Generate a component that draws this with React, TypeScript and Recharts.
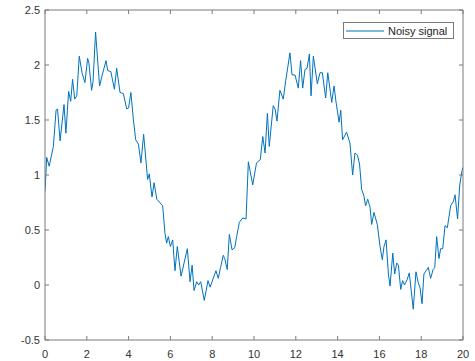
import { Line, LineChart, XAxis, YAxis } from 'recharts'

// sample positions
const xs = [
  0, 0.08, 0.2, 0.4, 0.53, 0.6, 0.72, 0.91, 1.0, 1.13, 1.23, 1.32, 1.42, 1.52, 1.64, 1.77, 1.91, 2.04, 2.1, 2.23,
  2.3, 2.42, 2.61, 2.74, 2.92, 3.0, 3.15, 3.32, 3.43, 3.59, 3.75, 3.91, 4.0, 4.11, 4.23, 4.34, 4.47, 4.59, 4.72, 4.91,
  4.99, 5.12, 5.22, 5.35, 5.63, 5.74, 5.82, 5.9, 6.0, 6.11, 6.22, 6.33, 6.51, 6.81, 6.94, 7.04, 7.13, 7.26, 7.35, 7.45,
  7.62, 7.8, 7.9, 8.18, 8.29, 8.4, 8.53, 8.6, 8.72, 8.82, 8.95, 9.08, 9.17, 9.3, 9.46, 9.62, 9.73, 9.94, 10.12, 10.3,
  10.42, 10.53, 10.64, 10.73, 10.92, 11.01, 11.1, 11.24, 11.4, 11.52, 11.72, 11.82, 11.96, 12.12, 12.23, 12.33, 12.44,
  12.54, 12.65, 12.73, 12.84, 13.03, 13.16, 13.27, 13.43, 13.53, 13.72, 13.83, 13.92, 14.07, 14.15, 14.24, 14.43,
  14.59, 14.72, 14.83, 14.95, 15.05, 15.15, 15.26, 15.34, 15.44, 15.55, 15.63, 15.74, 15.9, 16.03, 16.14, 16.22,
  16.32, 16.43, 16.51, 16.64, 16.73, 16.83, 16.91, 17.02, 17.11, 17.2, 17.33, 17.43, 17.62, 17.75, 17.86, 17.94,
  18.04, 18.13, 18.34, 18.45, 18.57, 18.65, 18.74, 18.85, 18.93, 19.03, 19.14, 19.25, 19.41, 19.54, 19.62, 19.74,
  19.84, 19.94, 20,
]

const noisySignal = [
  0.85, 1.16, 1.08, 1.26, 1.59, 1.6, 1.31, 1.64, 1.38, 1.76, 1.67, 1.87, 1.69, 1.72, 2.08, 1.93, 1.84, 2.06, 2.02, 1.77,
  1.85, 2.3, 1.81, 1.91, 2.04, 1.95, 1.94, 1.78, 1.97, 1.75, 1.74, 1.6, 1.61, 1.75, 1.5, 1.32, 1.28, 1.11, 1.37, 0.96,
  1.01, 0.8, 0.93, 0.78, 0.72, 0.47, 0.38, 0.44, 0.35, 0.41, 0.13, 0.35, 0.08, 0.33, 0.03, 0.18, -0.05, 0.03, 0.0, 0.03,
  -0.14, 0.04, -0.02, 0.13, 0.06, 0.16, 0.27, 0.24, 0.14, 0.46, 0.32, 0.34, 0.44, 0.57, 0.61, 0.6, 1.12, 0.91, 1.11, 1.14,
  1.35, 1.2, 1.56, 1.26, 1.63, 1.6, 1.49, 1.77, 1.69, 1.86, 2.11, 1.91, 1.91, 1.79, 2.04, 1.79, 1.96,
  1.97, 2.1, 1.72, 2.08, 1.83, 1.93, 1.93, 1.7, 1.93, 1.66, 1.81, 1.67, 1.48, 1.59, 1.32, 1.39,
  1.29, 1.0, 1.2, 1.18, 1.1, 0.87, 0.81, 0.72, 0.78, 0.71, 0.55, 0.66, 0.55, 0.35, 0.23, 0.35,
  0.41, 0.1, -0.01, 0.29, 0.1, 0.2, 0.18, -0.04, 0.04, 0.0, 0.05, 0.11, -0.22, 0.12, 0.02, -0.02,
  -0.17, 0.1, 0.16, 0.06, 0.14, 0.16, 0.44, 0.24, 0.33, 0.33, 0.54, 0.52, 0.72, 0.76, 0.82, 0.6,
  0.9, 1.03, 1.07,
]

const xTicks = [0, 2, 4, 6, 8, 10, 12, 14, 16, 18, 20]
const yTicks = [-0.5, 0, 0.5, 1, 1.5, 2, 2.5]

const data = xs.map((x, i) => ({ x, y: noisySignal[i] }))

const axisColor = '#7a7a7a'
const fontFamily = 'Liberation Sans, Arial, sans-serif'
const labelStyle = { fill: '#333', fontSize: 11, fontFamily }

const NoLabel = () => <g />

function NoisyLegend() {
  return (
    <div
      style={{
        position: 'absolute',
        left: 343,
        top: 22,
        boxSizing: 'border-box',
        width: 111,
        height: 17,
        border: `1px solid ${axisColor}`,
        background: '#fff',
        display: 'flex',
        alignItems: 'center',
        fontFamily,
        fontSize: 11,
        color: '#222',
      }}
    >
      <svg width={42} height={10} style={{ marginLeft: 2 }}>
        <line x1={0} y1={5} x2={38} y2={5} stroke="#0072BD" strokeWidth={1} />
      </svg>
      <span>Noisy signal</span>
    </div>
  )
}

export default function App() {
  return (
    <div style={{ position: 'absolute', left: 0, top: 0, width: 475, height: 361, background: '#fff' }}>
      <LineChart width={475} height={361} data={data} margin={{ top: 9, right: 11, bottom: 0, left: 0 }}>
        <XAxis
          dataKey="x"
          type="number"
          domain={[0, 20]}
          ticks={xTicks}
          height={21}
          stroke={axisColor}
          tickSize={-4}
          tickMargin={14}
          tick={labelStyle}
          allowDataOverflow
        />
        <XAxis
          xAxisId="top"
          orientation="top"
          dataKey="x"
          type="number"
          domain={[0, 20]}
          ticks={xTicks}
          height={1}
          stroke={axisColor}
          tickSize={-4}
          tick={NoLabel}
          allowDataOverflow
        />
        <YAxis
          type="number"
          domain={[-0.5, 2.5]}
          ticks={yTicks}
          width={45}
          stroke={axisColor}
          tickSize={-4}
          tickMargin={9}
          tick={labelStyle}
          allowDataOverflow
        />
        <YAxis
          yAxisId="right"
          orientation="right"
          type="number"
          domain={[-0.5, 2.5]}
          ticks={yTicks}
          width={1}
          stroke={axisColor}
          tickSize={-4}
          tick={NoLabel}
          allowDataOverflow
        />
        {/* invisible twin so the top and right box axes are drawn */}
        <Line
          xAxisId="top"
          yAxisId="right"
          type="linear"
          dataKey="y"
          stroke="none"
          dot={false}
          legendType="none"
          isAnimationActive={false}
        />
        <Line
          type="linear"
          dataKey="y"
          name="Noisy signal"
          stroke="#0072BD"
          strokeWidth={1}
          dot={false}
          isAnimationActive={false}
        />
      </LineChart>
      <NoisyLegend />
    </div>
  )
}
